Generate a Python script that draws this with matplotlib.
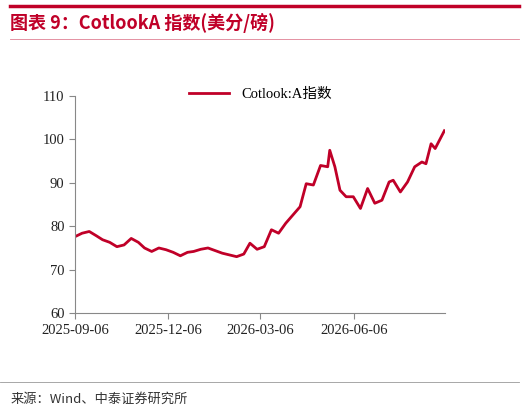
import numpy as np
import pandas as pd
from matplotlib import pyplot as plt
import matplotlib.dates as mdates

plt.rcParams['font.family'] = ['Liberation Serif', 'Noto Sans CJK SC']

start = pd.Timestamp("2025-09-06")
day_offsets = [0, 7, 14, 21, 27, 34, 41, 48, 55, 62, 68, 75, 82, 89, 96, 103, 110,
               116, 123, 130, 137, 144, 151, 158, 165, 171, 178, 185, 192, 199, 206,
               213, 220, 226, 233, 240, 247, 249, 254, 259, 265, 272, 279, 286, 293,
               300, 307, 311, 318, 325, 332, 339, 343, 348, 352, 361]
index_vals = [77.6, 78.4, 78.8, 77.8, 76.9, 76.3, 75.3, 75.7, 77.2, 76.3, 75.0, 74.2,
              75.0, 74.6, 74.0, 73.2, 74.0, 74.2, 74.7, 75.0, 74.4, 73.8, 73.4, 73.0,
              73.6, 76.1, 74.7, 75.3, 79.2, 78.4, 80.7, 82.6, 84.5, 89.8, 89.5, 94.0,
              93.7, 97.5, 93.7, 88.3, 86.8, 86.8, 84.1, 88.7, 85.3, 86.0, 90.2, 90.6,
              87.9, 90.2, 93.7, 94.8, 94.4, 99.0, 97.9, 102.0]
dates = start + pd.to_timedelta(day_offsets, unit="D")
tick_dates = pd.to_datetime(["2025-09-06", "2025-12-06", "2026-03-06", "2026-06-06"])

red = "#C00028"
fig = plt.figure(figsize=[5.24, 4.12], dpi=100)

# header / footer decoration
fig.add_artist(plt.Line2D([0.02, 0.99], [0.985, 0.985], color=red, lw=2.5))
fig.add_artist(plt.Line2D([0.02, 0.99], [0.905, 0.905], color=red, lw=0.6, alpha=0.5))
fig.text(0.02, 0.945, "图表 9：CotlookA 指数(美分/磅)", color=red, fontsize=13,
         fontweight="bold", style="italic", va="center",
         family=["Noto Sans CJK SC", "DejaVu Sans"])
fig.add_artist(plt.Line2D([0.0, 0.99], [0.072, 0.072], color="#999999", lw=0.6))
fig.text(0.02, 0.03, "来源：Wind、中泰证券研究所", fontsize=9.5, color="#333333",
         va="center", family=["Noto Sans CJK SC", "DejaVu Sans"])

ax = fig.add_axes([0.143, 0.24, 0.707, 0.527])
ax.plot(dates, index_vals, color=red, linewidth=2.0, label="Cotlook:A指数")
ax.set_ylim(60, 110)
ax.set_yticks(range(60, 111, 10))
ax.set_xlim(start, pd.Timestamp("2026-09-03"))
ax.set_xticks(tick_dates)
ax.xaxis.set_major_formatter(mdates.DateFormatter("%Y-%m-%d"))
for s in ["top", "right"]:
    ax.spines[s].set_visible(False)
for s in ["left", "bottom"]:
    ax.spines[s].set_color("#888888")
ax.tick_params(colors="#888888", labelcolor="#222222", labelsize=10.5, length=4)
ax.legend(loc="upper center", bbox_to_anchor=(0.5, 1.1), frameon=False, fontsize=10.5,
          handlelength=2.8)

fig.savefig("out.png", dpi=100)
